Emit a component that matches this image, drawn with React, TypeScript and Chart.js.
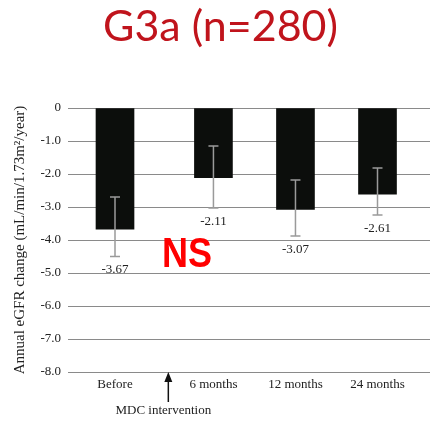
import React, { useEffect, useRef } from "react";
import { Chart, registerables } from "chart.js";
Chart.register(...registerables);

const categories = ["Before", "6 months", "12 months", "24 months"];
const categoryPositions = [0, 1.2, 2.2, 3.2];
const meanChange = [-3.67, -2.11, -3.07, -2.61];
const errorUpper = [-2.7, -1.15, -2.18, -1.82];
const errorLower = [-4.5, -3.03, -3.88, -3.24];
const valueLabels = ["-3.67", "-2.11", "-3.07", "-2.61"];
const interventionPosition = 0.65;
const interventionLabel = "MDC intervention";
const titleText = "G3a (n=280)";
const significanceText = "NS";
const yAxisTitle = "Annual eGFR change (mL/min/1.73m\u00b2/year)";

const SERIF = "'Liberation Serif', 'DejaVu Serif', serif";

function fitText(ctx: CanvasRenderingContext2D, text: string, x: number, y: number, width: number) {
  const w = ctx.measureText(text).width;
  ctx.save();
  ctx.translate(x, y);
  ctx.scale(width / w, 1);
  ctx.fillText(text, 0, 0);
  ctx.restore();
}

const overlayPlugin = {
  id: "overlay",
  afterDatasetsDraw(chart: any) {
    const { ctx, scales } = chart;
    const xs = scales.x;
    const ys = scales.y;
    ctx.save();
    ctx.strokeStyle = "#9a9a9a";
    ctx.lineWidth = 1.5;
    categoryPositions.forEach((p, i) => {
      const x = xs.getPixelForValue(p);
      const yTop = ys.getPixelForValue(errorUpper[i]);
      const yBot = ys.getPixelForValue(errorLower[i]);
      ctx.beginPath();
      ctx.moveTo(x, yTop);
      ctx.lineTo(x, yBot);
      ctx.moveTo(x - 5, yTop);
      ctx.lineTo(x + 5, yTop);
      ctx.moveTo(x - 5, yBot);
      ctx.lineTo(x + 5, yBot);
      ctx.stroke();
      ctx.fillStyle = "#222";
      ctx.font = `13px ${SERIF}`;
      ctx.textAlign = "center";
      ctx.textBaseline = "top";
      ctx.fillText(valueLabels[i], x, yBot + 7);
    });
    ctx.restore();
  },
  afterDraw(chart: any) {
    const { ctx, scales, chartArea } = chart;
    const xs = scales.x;
    ctx.save();
    ctx.fillStyle = "#222";
    ctx.font = `13px ${SERIF}`;
    ctx.textAlign = "center";
    ctx.textBaseline = "middle";
    categoryPositions.forEach((p, i) => {
      ctx.fillText(categories[i], xs.getPixelForValue(p), chartArea.bottom + 13);
    });
    const ax = xs.getPixelForValue(interventionPosition);
    ctx.strokeStyle = "#111";
    ctx.fillStyle = "#111";
    ctx.lineWidth = 1.5;
    ctx.beginPath();
    ctx.moveTo(ax, chartArea.bottom + 8);
    ctx.lineTo(ax, chartArea.bottom + 30);
    ctx.stroke();
    ctx.beginPath();
    ctx.moveTo(ax, chartArea.bottom);
    ctx.lineTo(ax - 4, chartArea.bottom + 10);
    ctx.lineTo(ax + 4, chartArea.bottom + 10);
    ctx.closePath();
    ctx.fill();
    ctx.fillStyle = "#222";
    ctx.fillText(interventionLabel, ax - 5, chartArea.bottom + 39);
    ctx.fillStyle = "#ff0000";
    ctx.font = `bold 42px 'Liberation Sans', Arial, sans-serif`;
    ctx.textAlign = "left";
    ctx.textBaseline = "alphabetic";
    fitText(ctx, significanceText, 162, 267, 50);
    ctx.fillStyle = "#c0141c";
    ctx.font = `42px Lato, 'Noto Sans', sans-serif`;
    fitText(ctx, titleText, 103, 41, 235);
    ctx.restore();
  },
};

export default function App() {
  const ref = useRef<HTMLCanvasElement>(null);
  useEffect(() => {
    document.body.style.margin = "0";
    const chart = new Chart(ref.current!, {
      type: "bar",
      data: {
        datasets: [
          {
            data: categoryPositions.map((x, i) => ({ x, y: meanChange[i] })),
            backgroundColor: "#0c0e0c",
            borderWidth: 0,
            barThickness: 38,
          },
        ],
      },
      options: {
        animation: false,
        responsive: true,
        maintainAspectRatio: false,
        layout: { padding: { top: 108, bottom: 50, right: 0, left: 0 } },
        plugins: { legend: { display: false }, tooltip: { enabled: false }, title: { display: false } },
        scales: {
          x: { type: "linear", display: false, offset: false, min: -0.573, max: 3.84 },
          y: {
            min: -8,
            max: 0,
            afterFit(scale: any) {
              scale.width = 68;
            },
            ticks: {
              stepSize: 1,
              padding: 7,
              color: "#222",
              font: { family: SERIF, size: 13 },
              callback: (v: any) => (v === 0 ? "0" : Number(v).toFixed(1)),
            },
            grid: { color: "#8a8a8a", drawTicks: false, lineWidth: 1 },
            border: { display: false },
            title: {
              display: true,
              text: yAxisTitle,
              color: "#222",
              font: { family: SERIF, size: 15 },
              padding: { top: 11, bottom: 0 },
            },
          },
        },
      },
      plugins: [overlayPlugin],
    });
    return () => chart.destroy();
  }, []);
  return (
    <div style={{ width: 430, height: 422, position: "relative" }}>
      <canvas ref={ref} />
    </div>
  );
}
